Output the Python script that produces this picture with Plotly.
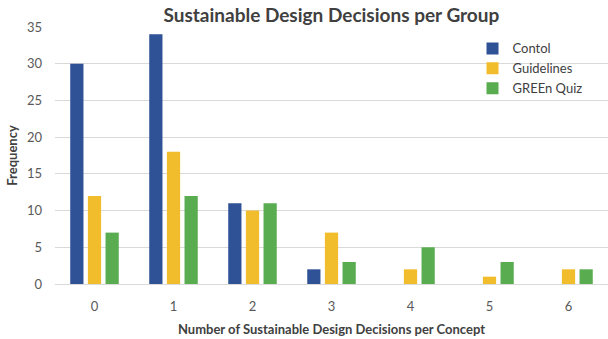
import plotly.graph_objects as go

categories = [0, 1, 2, 3, 4, 5, 6]
tick_labels = ["0", "1", "2", "3", "4", "5", "6"]
contol = [30, 34, 11, 2, 0, 0, 0]
guidelines = [12, 18, 10, 7, 2, 1, 2]
green_quiz = [7, 12, 11, 3, 5, 3, 2]

series = [
    ("Contol", contol, "#2F5196"),
    ("Guidelines", guidelines, "#F2BD2C"),
    ("GREEn Quiz", green_quiz, "#59AC4F"),
]

fig = go.Figure()
for name, vals, col in series:
    fig.add_trace(go.Bar(
        x=categories, y=vals, name=name,
        marker=dict(color=col, line=dict(width=0)),
    ))

font_family = "Lato, 'Open Sans', sans-serif"
fig.update_layout(
    width=608, height=339,
    margin=dict(l=55, r=0, t=27, b=55),
    paper_bgcolor="white", plot_bgcolor="white",
    barmode="group", bargap=0.33, bargroupgap=0.25,
    font=dict(family=font_family, size=12, color="#595959"),
    title=dict(text="<b>Sustainable Design Decisions per Group</b>",
               x=0.545, xanchor="center", y=0.955, yanchor="middle",
               font=dict(size=19, color="#404040", family=font_family)),
    showlegend=True,
    legend=dict(x=0.755, y=0.975, xanchor="left", yanchor="top",
                bgcolor="rgba(0,0,0,0)", font=dict(size=13, color="#404040"),
                itemwidth=30, tracegroupgap=0),
    xaxis=dict(range=[-0.5, 6.5], tickmode="array", tickvals=categories,
               ticktext=tick_labels, showgrid=False, zeroline=False,
               showline=True, linecolor="#D9D9D9", linewidth=1, ticks="",
               ticklabelstandoff=10,
               tickfont=dict(size=13, color="#595959"),
               title=dict(text="<b>Number of Sustainable Design Decisions per Concept</b>",
                          font=dict(size=13, color="#404040"), standoff=12)),
    yaxis=dict(range=[0, 35], dtick=5, showgrid=True, gridcolor="#D9D9D9",
               gridwidth=1, zeroline=False, showline=False, ticks="",
               ticklabelstandoff=12,
               tickfont=dict(size=13, color="#595959"),
               title=dict(text="<b>Frequency</b>", font=dict(size=13, color="#404040"),
                          standoff=6)),
)

fig.write_html("out.html")
